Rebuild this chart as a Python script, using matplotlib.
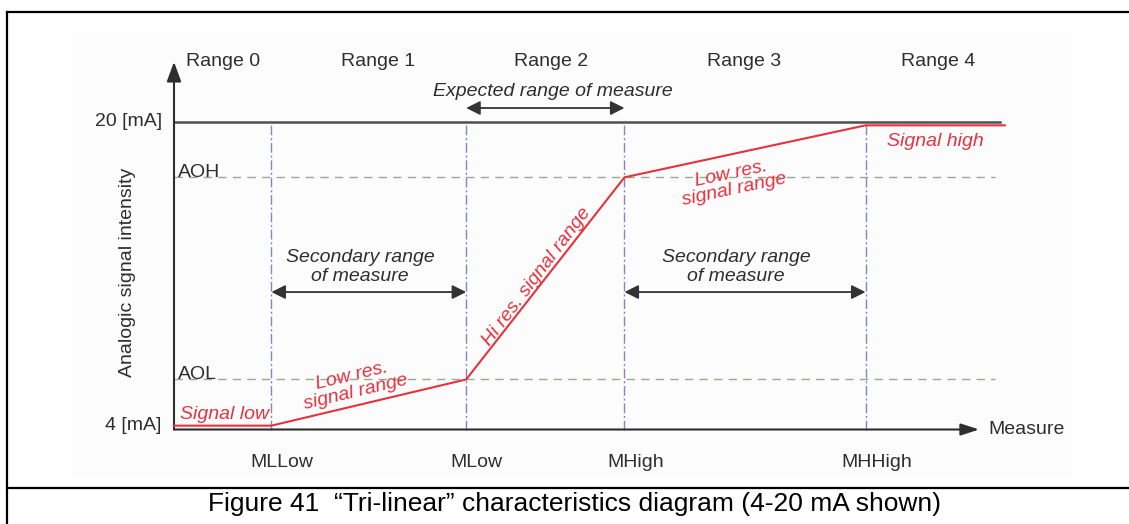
import matplotlib
matplotlib.use("Agg")
import matplotlib.pyplot as plt
from matplotlib.lines import Line2D
from matplotlib.patches import Rectangle

# ---------------- data ----------------
boundary_names = ["MLLow", "MLow", "MHigh", "MHHigh"]
boundary_x = [2.0, 6.0, 9.25, 14.2]          # measure positions of range borders
range_labels = ["Range 0", "Range 1", "Range 2", "Range 3", "Range 4"]
range_label_x = [1.0, 4.2, 7.75, 11.7, 15.7]

ma_low = 4.0
ma_high = 20.0
level_labels = ["AOL", "AOH"]
level_values = [6.6, 17.1]

# tri-linear characteristic (red curve), as drawn
signal_x = [0.0, 2.0, 6.0, 9.25, 14.2, 17.06]
signal_y = [4.2, 4.2, 6.6, 17.1, 19.8, 19.8]

caption = "Figure 41  \u201cTri-linear\u201d characteristics diagram (4-20 mA shown)"

# ---------------- styles ----------------
FONT = ["Liberation Sans", "DejaVu Sans"]
plt.rcParams["font.family"] = FONT
DARK = "#2e2e2e"
RED = "#e5323e"
FS = 14

W, H = 1129, 524
fig = plt.figure(figsize=(W / 100, H / 100), dpi=100)
fig.patch.set_facecolor("white")

# faint scanned-figure background
fig.add_artist(Rectangle((72 / W, 1 - 476 / H), 1000 / W, 443 / H,
                         transform=fig.transFigure, facecolor="#fcfcfc",
                         edgecolor="none", zorder=0))

ax = fig.add_axes([0, 0, 1, 1])
ax.set_facecolor("none")
px_x, px_y = 48.7, 19.25
ax.set_xlim(-174 / px_x, (W - 174) / px_x)
ax.set_ylim(ma_low - 94.5 / px_y, ma_low + 429.5 / px_y)
ax.axis("off")

# vertical range borders
for bx in boundary_x:
    ax.plot([bx, bx], [ma_low, ma_high], color="#8585c0", lw=1.0,
            dashes=[7, 2, 1.5, 2], zorder=2.5)

# AOL / AOH dashed levels
for v in level_values:
    ax.plot([0, 16.86], [v, v], color="#8fb08f", lw=1.0, dashes=[6, 4.5], zorder=2)

# 20 mA line
ax.plot([0, 16.96], [ma_high, ma_high], color="#505050", lw=1.8, zorder=3)

# axes arrows
ax.annotate("", xy=(0, 23.1), xytext=(0, ma_low),
            arrowprops=dict(arrowstyle="-|>,head_length=0.6,head_width=0.22",
                            color=DARK, lw=1.5, mutation_scale=20,
                            shrinkA=0, shrinkB=0), zorder=4)
ax.annotate("", xy=(16.53, ma_low), xytext=(0, ma_low),
            arrowprops=dict(arrowstyle="-|>,head_length=0.55,head_width=0.18",
                            color=DARK, lw=1.5, mutation_scale=20,
                            shrinkA=0, shrinkB=0), zorder=4)

# red characteristic
ax.plot(signal_x, signal_y, color=RED, lw=1.5, zorder=5, solid_joinstyle="miter")

# double arrows
def darrow(x0, x1, y):
    ax.annotate("", xy=(x1, y), xytext=(x0, y),
                arrowprops=dict(arrowstyle="<|-|>,head_length=0.6,head_width=0.3",
                                color="#333333", lw=1.3, mutation_scale=14,
                                shrinkA=0, shrinkB=0), zorder=4)

darrow(boundary_x[1], boundary_x[2], 20.7)
darrow(boundary_x[0], boundary_x[1], 11.14)
darrow(boundary_x[2], boundary_x[3], 11.14)

# range labels
for lab, x in zip(range_labels, range_label_x):
    ax.text(x, 23.14, lab, ha="center", va="center", fontsize=FS, color=DARK)

ax.text(7.78, 21.58, "Expected range of measure", ha="center", va="center",
        fontsize=FS, color=DARK, style="italic")
ax.text(3.82, 12.42, "Secondary range\nof measure", ha="center", va="center",
        fontsize=FS, color=DARK, style="italic", linespacing=1.15)
ax.text(11.54, 12.42, "Secondary range\nof measure", ha="center", va="center",
        fontsize=FS, color=DARK, style="italic", linespacing=1.15)

# y-level labels
ax.text(-0.25, ma_high, "20 [mA]", ha="right", va="center", fontsize=FS, color=DARK)
ax.text(-0.25, 4.23, "4 [mA]", ha="right", va="center", fontsize=FS, color=DARK)
for lab, v in zip(level_labels, level_values):
    ax.text(0.08, v + 0.03, lab, ha="left", va="baseline", fontsize=FS, color=DARK)

# boundary labels
for lab, bx in zip(boundary_names, boundary_x):
    ax.text(bx + 0.22, 2.31, lab, ha="center", va="center", fontsize=FS, color=DARK)

ax.text(16.72, ma_low, "Measure", ha="left", va="center", fontsize=FS, color=DARK)
ax.text(-0.965, 12.18, "Analogic signal intensity", ha="center", va="center",
        rotation=90, fontsize=FS, color=DARK)

# red annotations
ax.text(0.12, 4.52, "Signal low", ha="left", va="baseline", fontsize=FS,
        color=RED, style="italic")
ax.text(14.64, 18.75, "Signal high", ha="left", va="baseline", fontsize=FS,
        color=RED, style="italic")
ax.text(3.69, 6.36, "Low res.\nsignal range", ha="center", va="center",
        rotation=13.5, rotation_mode="anchor", fontsize=FS, color=RED,
        style="italic", linespacing=0.95)
ax.text(11.48, 16.88, "Low res.\nsignal range", ha="center", va="center",
        rotation=12, rotation_mode="anchor", fontsize=FS, color=RED,
        style="italic", linespacing=0.95)
ax.text(7.45, 11.92, "Hi res. signal range", ha="center", va="center",
        rotation=53, rotation_mode="anchor", fontsize=FS, color=RED, style="italic")

# frame and caption
xl = 7 / W
fig.add_artist(Line2D([xl, xl], [0, 1 - 12 / H], transform=fig.transFigure,
                      color="black", lw=1.6))
fig.add_artist(Line2D([xl, 1], [1 - 12 / H, 1 - 12 / H], transform=fig.transFigure,
                      color="black", lw=1.6))
fig.add_artist(Line2D([xl, 1], [1 - 488 / H, 1 - 488 / H], transform=fig.transFigure,
                      color="black", lw=1.6))
fig.text(575 / W, 1 - 504 / H, caption, ha="center", va="center", fontsize=19,
         color="black")

fig.savefig("out.png", dpi=100)
